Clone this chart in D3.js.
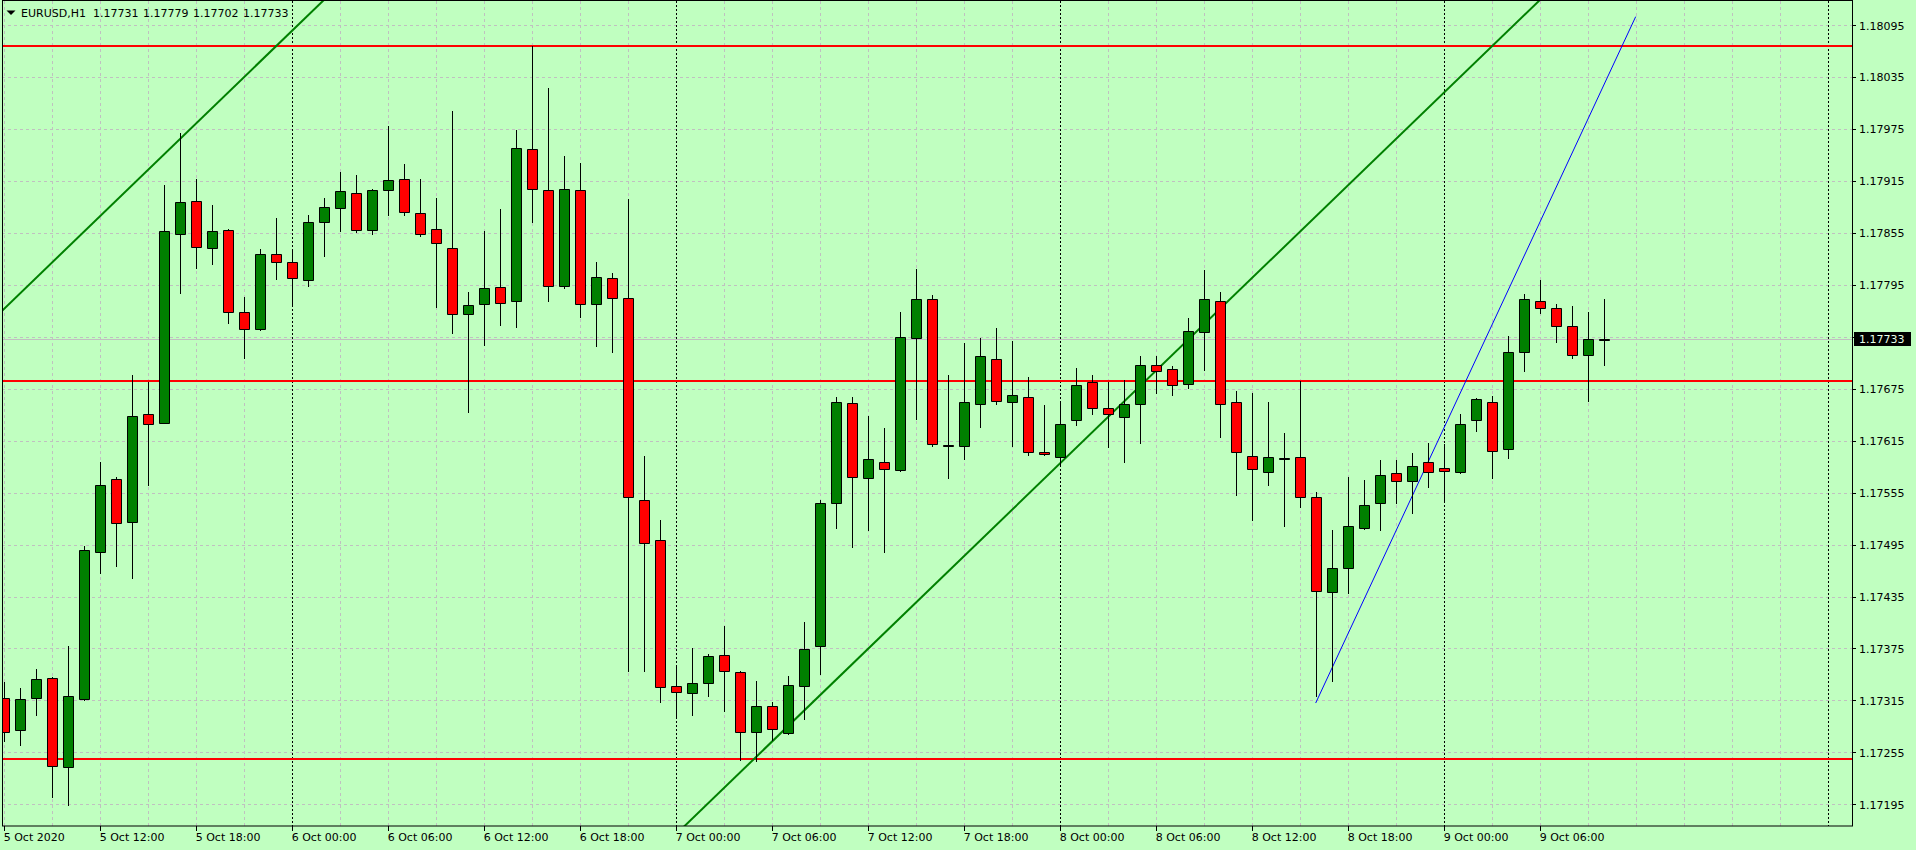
<!DOCTYPE html>
<html><head><meta charset="utf-8">
<script src="https://cdn.jsdelivr.net/npm/d3@7"></script>
<style>
html,body{margin:0;padding:0;background:#c0ffc0;overflow:hidden}
svg{display:block}
text{font-family:"DejaVu Sans",sans-serif;font-size:11px;fill:#000}
</style></head><body>
<svg id="chart" width="1916" height="850"></svg>
<script>
// ---------------- data ----------------
const symbol = "EURUSD,H1";
const headerValues = [1.17731, 1.17779, 1.17702, 1.17733];
const firstBar = "2020-10-05T06:00:00Z";
const lastGridTime = "2020-10-10T00:00:00Z";
const open = [1.17318,1.17281,1.17318,1.17341,1.17238,1.17317,1.17486,1.17571,1.17521,1.17646,
1.17636,1.17854,1.17892,1.17838,1.17859,1.17764,1.17744,1.17831,1.17821,1.17801,
1.17868,1.17884,1.17901,1.17859,1.17905,1.17918,1.17878,1.17860,1.17838,1.17761,
1.17773,1.17793,1.17777,1.17952,1.17905,1.17794,1.17905,1.17773,1.17803,1.17780,
1.17546,1.17500,1.17332,1.17324,1.17335,1.17368,1.17348,1.17279,1.17309,1.17277,
1.17332,1.17378,1.17543,1.17659,1.17572,1.17591,1.17581,1.17734,1.17779,1.17610,
1.17609,1.17658,1.17710,1.17660,1.17665,1.17602,1.17596,1.17639,1.17683,1.17653,
1.17643,1.17657,1.17703,1.17698,1.17681,1.17741,1.17777,1.17660,1.17597,1.17579,
1.17594,1.17596,1.17550,1.17440,1.17468,1.17514,1.17543,1.17578,1.17569,1.17590,
1.17583,1.17579,1.17639,1.17660,1.17606,1.17717,1.17777,1.17768,1.17748,1.17714,1.17731];
const high = [1.17336,1.17329,1.17351,1.17342,1.17378,1.17493,1.17590,1.17573,1.17691,1.17683,
1.17911,1.17970,1.17918,1.17887,1.17860,1.17781,1.17837,1.17872,1.17834,1.17876,
1.17896,1.17925,1.17922,1.17906,1.17979,1.17935,1.17917,1.17895,1.17996,1.17787,
1.17857,1.17883,1.17974,1.18071,1.18022,1.17944,1.17936,1.17822,1.17809,1.17894,
1.17597,1.17524,1.17356,1.17376,1.17369,1.17401,1.17349,1.17338,1.17313,1.17343,
1.17406,1.17547,1.17665,1.17665,1.17644,1.17630,1.17764,1.17814,1.17783,1.17691,
1.17728,1.17734,1.17745,1.17730,1.17689,1.17656,1.17659,1.17699,1.17691,1.17683,
1.17685,1.17713,1.17713,1.17701,1.17757,1.17812,1.17787,1.17672,1.17670,1.17660,
1.17624,1.17684,1.17556,1.17512,1.17573,1.17570,1.17593,1.17593,1.17601,1.17612,
1.17611,1.17646,1.17664,1.17667,1.17736,1.17785,1.17801,1.17773,1.17771,1.17764,1.17779];
const low = [1.17268,1.17264,1.17298,1.17204,1.17194,1.17316,1.17462,1.17470,1.17457,1.17564,
1.17635,1.17786,1.17815,1.17819,1.17751,1.17711,1.17743,1.17802,1.17773,1.17794,
1.17829,1.17857,1.17856,1.17854,1.17876,1.17876,1.17851,1.17769,1.17740,1.17648,
1.17726,1.17749,1.17746,1.17868,1.17777,1.17791,1.17758,1.17724,1.17717,1.17349,
1.17349,1.17313,1.17296,1.17298,1.17320,1.17303,1.17246,1.17245,1.17269,1.17276,
1.17294,1.17346,1.17514,1.17492,1.17512,1.17487,1.17580,1.17640,1.17609,1.17572,
1.17594,1.17631,1.17658,1.17609,1.17598,1.17599,1.17588,1.17633,1.17646,1.17608,
1.17590,1.17612,1.17670,1.17668,1.17676,1.17697,1.17619,1.17552,1.17524,1.17564,
1.17516,1.17539,1.17320,1.17337,1.17439,1.17513,1.17512,1.17543,1.17532,1.17562,
1.17544,1.17578,1.17626,1.17572,1.17595,1.17696,1.17763,1.17729,1.17711,1.17661,1.17702];
const close = [1.17279,1.17317,1.17340,1.17239,1.17320,1.17489,1.17564,1.17520,1.17644,1.17634,
1.17857,1.17891,1.17839,1.17857,1.17764,1.17744,1.17831,1.17821,1.17803,1.17868,
1.17885,1.17903,1.17859,1.17905,1.17916,1.17879,1.17854,1.17843,1.17761,1.17772,
1.17791,1.17774,1.17953,1.17906,1.17794,1.17906,1.17773,1.17804,1.17780,1.17550,
1.17497,1.17331,1.17325,1.17335,1.17366,1.17349,1.17278,1.17308,1.17282,1.17333,
1.17374,1.17543,1.17660,1.17573,1.17594,1.17582,1.17735,1.17779,1.17611,1.17609,
1.17660,1.17713,1.17661,1.17668,1.17602,1.17600,1.17634,1.17679,1.17653,1.17646,
1.17658,1.17703,1.17696,1.17680,1.17742,1.17779,1.17658,1.17602,1.17582,1.17596,
1.17595,1.17550,1.17442,1.17468,1.17517,1.17541,1.17576,1.17569,1.17586,1.17579,
1.17580,1.17634,1.17663,1.17603,1.17718,1.17779,1.17768,1.17748,1.17714,1.17732,1.17733];
const currentPrice = 1.17733;
const priceTicks = [1.18095,1.18035,1.17975,1.17915,1.17855,1.17795,1.17735,1.17675,
                    1.17615,1.17555,1.17495,1.17435,1.17375,1.17315,1.17255,1.17195];
const timeLabels = ["5 Oct 2020","5 Oct 12:00","5 Oct 18:00","6 Oct 00:00","6 Oct 06:00",
  "6 Oct 12:00","6 Oct 18:00","7 Oct 00:00","7 Oct 06:00","7 Oct 12:00","7 Oct 18:00",
  "8 Oct 00:00","8 Oct 06:00","8 Oct 12:00","8 Oct 18:00","9 Oct 00:00","9 Oct 06:00"];
const horizontalLevels = [1.18071, 1.17684, 1.17247];
const channelUpper = [["2020-10-05T06:00:00Z", 1.17767], ["2020-10-06T02:00:00Z", 1.18124]];
const channelLower = [["2020-10-07T00:00:00Z", 1.17160], ["2020-10-09T06:00:00Z", 1.18124]];
const blueTrend = [["2020-10-08T16:00:00Z", 1.17312], ["2020-10-09T12:00:00Z", 1.18105]];

// ---------------- layout ----------------
const W = 1916, H = 850;
const plot = {left: 2, top: 1, right: 1852, bottom: 826};
const HOUR = 3600e3;
const t0 = new Date(firstBar), tEnd = new Date(lastGridTime);
const times = open.map((_, i) => new Date(t0.getTime() + i * HOUR));

const x = d3.scaleUtc().domain([t0, tEnd]).range([3.7, 3.7 + 16 * 114]);
const y = d3.scaleLinear().domain([1.17195, 1.18095]).range([804.3, 25.3]);

const svg = d3.select("#chart");
svg.append("rect").attr("width", W).attr("height", H).attr("fill", "#c0ffc0");

svg.append("defs").append("clipPath").attr("id", "clip")
  .append("rect").attr("x", plot.left).attr("y", plot.top)
  .attr("width", plot.right - plot.left).attr("height", plot.bottom - plot.top);

const g = svg.append("g").attr("clip-path", "url(#clip)");

// grid: horizontal
const px = v => Math.round(v) + 0.5;
g.selectAll(".hgrid").data(priceTicks).join("line")
  .attr("x1", plot.left).attr("x2", plot.right)
  .attr("y1", d => px(y(d))).attr("y2", d => px(y(d)))
  .attr("stroke", "#c0c0c0").attr("stroke-dasharray", "3,3");

// grid: vertical every 3 hours, day separators dotted black
const gridTimes = d3.utcHour.every(3).range(t0, new Date(tEnd.getTime() + 6 * HOUR));
g.selectAll(".vgrid").data(gridTimes).join("line")
  .attr("x1", d => px(x(d))).attr("x2", d => px(x(d)))
  .attr("y1", plot.top).attr("y2", plot.bottom)
  .attr("stroke", d => d.getUTCHours() === 0 ? "#000" : "#c0c0c0")
  .attr("stroke-dasharray", d => d.getUTCHours() === 0 ? "2,2" : "3,3");

// current price line
g.append("line").attr("x1", plot.left).attr("x2", plot.right)
  .attr("y1", px(y(currentPrice))).attr("y2", px(y(currentPrice)))
  .attr("stroke", "#c0c0c0");

// horizontal red levels
g.selectAll(".lvl").data(horizontalLevels).join("line")
  .attr("x1", plot.left).attr("x2", plot.right)
  .attr("y1", d => Math.round(y(d))).attr("y2", d => Math.round(y(d)))
  .attr("stroke", "#ff0000").attr("stroke-width", 2);

// trend lines (extended as rays to the right/left within the plot)
function drawTrend(pts, color, width, extendLeft) {
  const [a, b] = pts.map(p => [new Date(p[0]), p[1]]);
  const xa = x(a[0]), ya = y(a[1]), xb = x(b[0]), yb = y(b[1]);
  const slope = (yb - ya) / (xb - xa);
  const xs = extendLeft ? plot.left - 50 : xa;
  const xe = xb;
  g.append("line")
    .attr("x1", xs).attr("y1", ya + (xs - xa) * slope)
    .attr("x2", xe + (extendLeft ? 400 : 0)).attr("y2", yb + (extendLeft ? 400 : 0) * slope)
    .attr("stroke", color).attr("stroke-width", width);
}
drawTrend(channelUpper, "#008000", 2, true);
drawTrend(channelLower, "#008000", 2, false);
drawTrend(blueTrend, "#0000ff", 1, false);

// candles
const bars = times.map((t, i) => ({t, o: open[i], h: high[i], l: low[i], c: close[i]}));
const cg = g.append("g");
cg.selectAll(".wick").data(bars).join("line")
  .attr("x1", d => Math.round(x(d.t)) + 0.5).attr("x2", d => Math.round(x(d.t)) + 0.5)
  .attr("y1", d => Math.round(y(d.h))).attr("y2", d => Math.round(y(d.l)) + 1)
  .attr("stroke", "#000");
cg.selectAll(".body").data(bars).join("path")
  .attr("d", d => {
    const cx = Math.round(x(d.t));
    const x0 = cx - 4.5, x1 = cx + 5.5;
    const y0 = px(y(Math.max(d.o, d.c))), y1 = px(y(Math.min(d.o, d.c)));
    return `M${x0},${y0}H${x1}V${y1}H${x0}Z`;
  })
  .attr("fill", d => d.c >= d.o ? "#008000" : "#ff0000")
  .attr("stroke", "#000").attr("stroke-width", 1);

// frame
svg.append("rect").attr("x", plot.left + 0.5).attr("y", plot.top - 0.5)
  .attr("width", plot.right - plot.left).attr("height", plot.bottom - plot.top + 0.5)
  .attr("fill", "none").attr("stroke", "#000");

// right price axis
const cpY = y(currentPrice);
const ra = svg.append("g");
ra.selectAll("line").data(priceTicks).join("line")
  .attr("x1", plot.right).attr("x2", plot.right + 4)
  .attr("y1", d => px(y(d))).attr("y2", d => px(y(d))).attr("stroke", "#000");
ra.selectAll("text").data(priceTicks.filter(d => Math.abs(y(d) - cpY) > 10)).join("text")
  .attr("x", plot.right + 7).attr("y", d => y(d) + 4.2)
  .text(d => d3.format(".5f")(d));

// current price tag
svg.append("rect").attr("x", plot.right + 2).attr("y", Math.round(cpY) - 7)
  .attr("width", 57).attr("height", 14).attr("fill", "#000");
svg.append("text").attr("x", plot.right + 7).attr("y", cpY + 4.2)
  .style("fill", "#e8ffe8").text(d3.format(".5f")(currentPrice));

// bottom time axis
const labelTimes = timeLabels.map((_, i) => new Date(t0.getTime() + i * 6 * HOUR));
const ba = svg.append("g");
ba.selectAll("line").data(labelTimes).join("line")
  .attr("x1", d => px(x(d))).attr("x2", d => px(x(d)))
  .attr("y1", plot.bottom).attr("y2", plot.bottom + 5).attr("stroke", "#000");
ba.selectAll("text").data(labelTimes).join("text")
  .attr("x", d => x(d)).attr("y", 841)
  .text((d, i) => timeLabels[i]);

// header
const hdr = svg.append("g");
hdr.append("path").attr("d", "M6.5,10.5 L15.5,10.5 L11,15 Z").attr("fill", "#000");
hdr.append("text").attr("x", 21).attr("y", 16.5).text(symbol);
hdr.selectAll(".hv").data(headerValues).join("text")
  .attr("x", (d, i) => 93 + i * 50).attr("y", 16.5)
  .text(d => d3.format(".5f")(d));
</script>
</body></html>
